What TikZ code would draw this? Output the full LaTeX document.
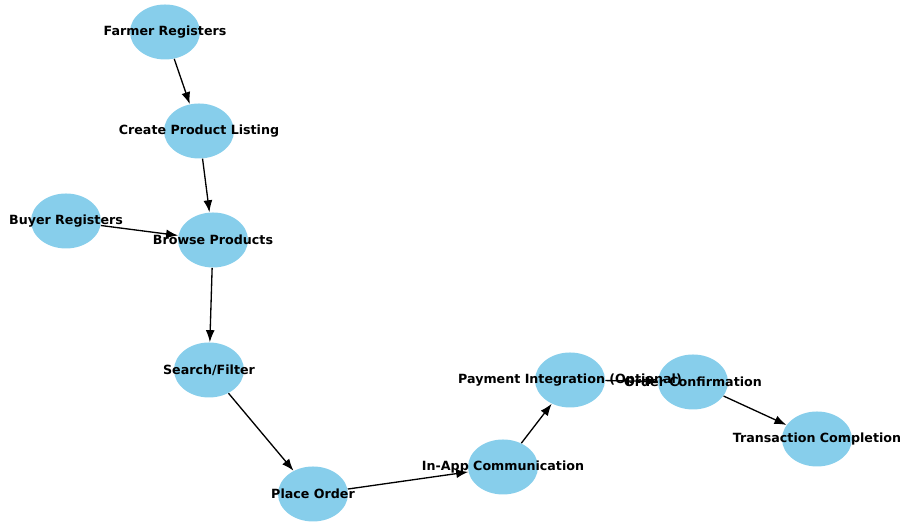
\documentclass[tikz,border=0pt]{standalone}
\usepackage{fontspec}
\setsansfont{DejaVu Sans}
\usepackage{tikz}
\tikzset{>=latex}
\usetikzlibrary{shapes.geometric}
\usetikzlibrary{arrows.meta}
\definecolor{nodeblue}{HTML}{87CEEB}
\tikzset{
  stage/.style={ellipse, fill=nodeblue, minimum width=1.4cm, minimum height=1.1cm, inner sep=0pt},
  stagetext/.style={font=\sffamily\bfseries\fontsize{7.2}{8}\selectfont, text=black, inner sep=0pt},
  flow/.style={-{Latex[length=2.4mm, width=1.8mm]}, line width=0.75pt}
}

\begin{document}
\begin{tikzpicture}
            \useasboundingbox (0, 0) rectangle (18, 10.46);
            \node[stage] (farmer) at (3.30, 9.82) {};
            \node[stage] (listing) at (3.98, 7.84) {};
            \node[stage] (buyer) at (1.32, 6.04) {};
            \node[stage] (browse) at (4.26, 5.66) {};
            \node[stage] (search) at (4.18, 3.06) {};
            \node[stage] (order) at (6.26, 0.58) {};
            \node[stage] (chat) at (10.06, 1.12) {};
            \node[stage] (payment) at (11.40, 2.86) {};
            \node[stage] (confirm) at (13.86, 2.82) {};
            \node[stage] (done) at (16.34, 1.68) {};
            \draw[flow] (farmer) -- (listing);
            \draw[flow] (listing) -- (browse);
            \draw[flow] (buyer) -- (browse);
            \draw[flow] (browse) -- (search);
            \draw[flow] (search) -- (order);
            \draw[flow] (order) -- (chat);
            \draw[flow] (chat) -- (payment);
            \draw[flow] (payment) -- (confirm);
            \draw[flow] (confirm) -- (done);
            \node[stagetext] (farmertext) at (farmer) {Farmer Registers};
            \node[stagetext] (listingtext) at (listing) {Create Product Listing};
            \node[stagetext] (buyertext) at (buyer) {Buyer Registers};
            \node[stagetext] (browsetext) at (browse) {Browse Products};
            \node[stagetext] (searchtext) at (search) {Search/Filter};
            \node[stagetext] (ordertext) at (order) {Place Order};
            \node[stagetext] (chattext) at (chat) {In-App Communication};
            \node[stagetext] (paymenttext) at (payment) {Payment Integration (Optional)};
            \node[stagetext] (confirmtext) at (confirm) {Order Confirmation};
            \node[stagetext] (donetext) at (done) {Transaction Completion};
        \end{tikzpicture}
\end{document}
